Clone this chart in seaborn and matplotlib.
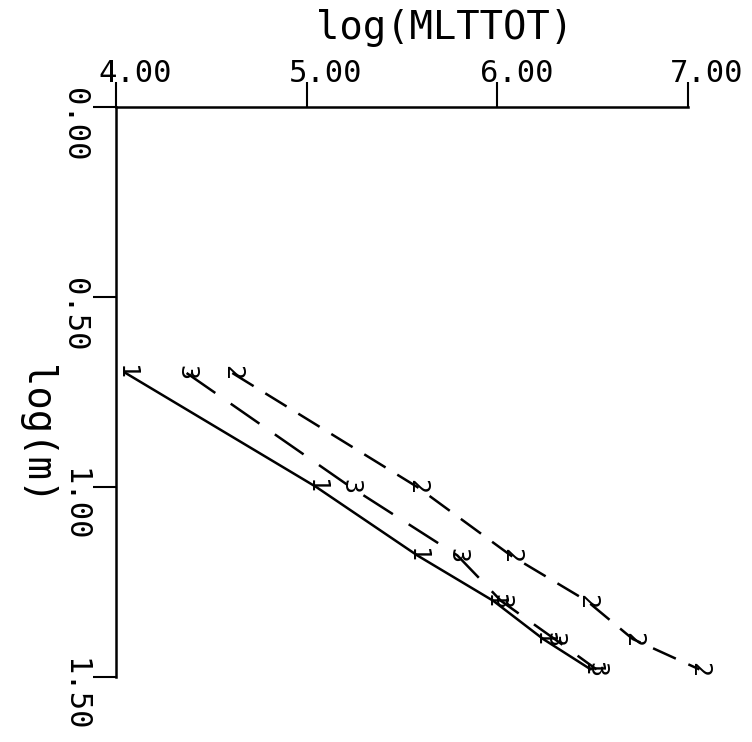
import matplotlib
matplotlib.use("Agg")
import matplotlib.pyplot as plt
import matplotlib.transforms as mtransforms
import pandas as pd
import seaborn as sns

# log(m) levels shared by the three curves
log_m = [0.70, 1.00, 1.18, 1.30, 1.40, 1.48]

# log(MLTTOT) for each curve
mlt_1 = [4.05, 5.05, 5.58, 5.98, 6.24, 6.49]
mlt_3 = [4.37, 5.23, 5.79, 6.02, 6.30, 6.52]
mlt_2 = [4.61, 5.58, 6.07, 6.47, 6.71, 7.06]
curve_names = ["1", "3", "2"]

x_ticks = [4.0, 5.0, 6.0, 7.0]
x_tick_labels = ["4.00", "5.00", "6.00", "7.00"]
y_ticks = [0.0, 0.5, 1.0, 1.5]
y_tick_labels = ["0.00", "0.50", "1.00", "1.50"]

df = pd.DataFrame({
    "mlttot": mlt_1 + mlt_3 + mlt_2,
    "m": log_m * 3,
    "curve": [n for n in curve_names for _ in log_m],
})

sns.set_style("white")
plt.rcParams["font.family"] = ["DejaVu Sans Mono"]

fig = plt.figure(figsize=(7.52, 7.42), dpi=100)
ax = fig.add_axes([0.1543, 0.0876, 0.7606, 0.7682])

sns.lineplot(
    data=df, x="mlttot", y="m", style="curve", style_order=curve_names,
    dashes={"1": "", "3": (14, 7.5), "2": (10, 5.5)},
    color="black", linewidth=1.8, estimator=None, sort=False,
    legend=False, ax=ax,
)
for line in ax.get_lines():
    line.set_clip_on(False)

# curve numbers used as point markers
for name, xs in zip(curve_names, [mlt_1, mlt_3, mlt_2]):
    for xv, yv in zip(xs, log_m):
        ax.text(xv, yv, name, rotation=-90, ha="center", va="center",
                fontsize=18, color="black", clip_on=False)

ax.set_xlim(4, 7)
ax.set_ylim(1.5, 0)
ax.xaxis.tick_top()
ax.xaxis.set_label_position("top")
ax.set_xticks(x_ticks, x_tick_labels)
ax.set_yticks(y_ticks, y_tick_labels)

for side in ["right", "bottom"]:
    ax.spines[side].set_visible(False)
for side in ["top", "left"]:
    ax.spines[side].set_color("black")
    ax.spines[side].set_linewidth(1.8)

ax.tick_params(axis="x", top=True, bottom=False, direction="out", length=18,
               width=1.5, pad=-4, labelsize=22, colors="black")
ax.tick_params(axis="y", left=True, direction="out", length=16.5,
               width=1.5, pad=3, labelsize=22, colors="black")

x_shift = mtransforms.ScaledTranslation(0.19, 0, fig.dpi_scale_trans)
for lbl in ax.get_xticklabels():
    lbl.set_transform(lbl.get_transform() + x_shift)

y_shift = mtransforms.ScaledTranslation(0, -0.18, fig.dpi_scale_trans)
for lbl in ax.get_yticklabels():
    lbl.set_rotation(-90)
    lbl.set_ha("right")
    lbl.set_va("center")
    lbl.set_transform(lbl.get_transform() + y_shift)

ax.set_xlabel("log(MLTTOT)", fontsize=28, color="black", va="center", ha="center")
ax.xaxis.set_label_coords(0.575, 1.139)
ax.set_ylabel("log(m)", fontsize=28, color="black", rotation=-90,
              va="center", ha="center", rotation_mode="default")
ax.yaxis.set_label_coords(-0.14, 0.4246)

ax.grid(False)
fig.savefig("out.png", dpi=100, facecolor="white")
